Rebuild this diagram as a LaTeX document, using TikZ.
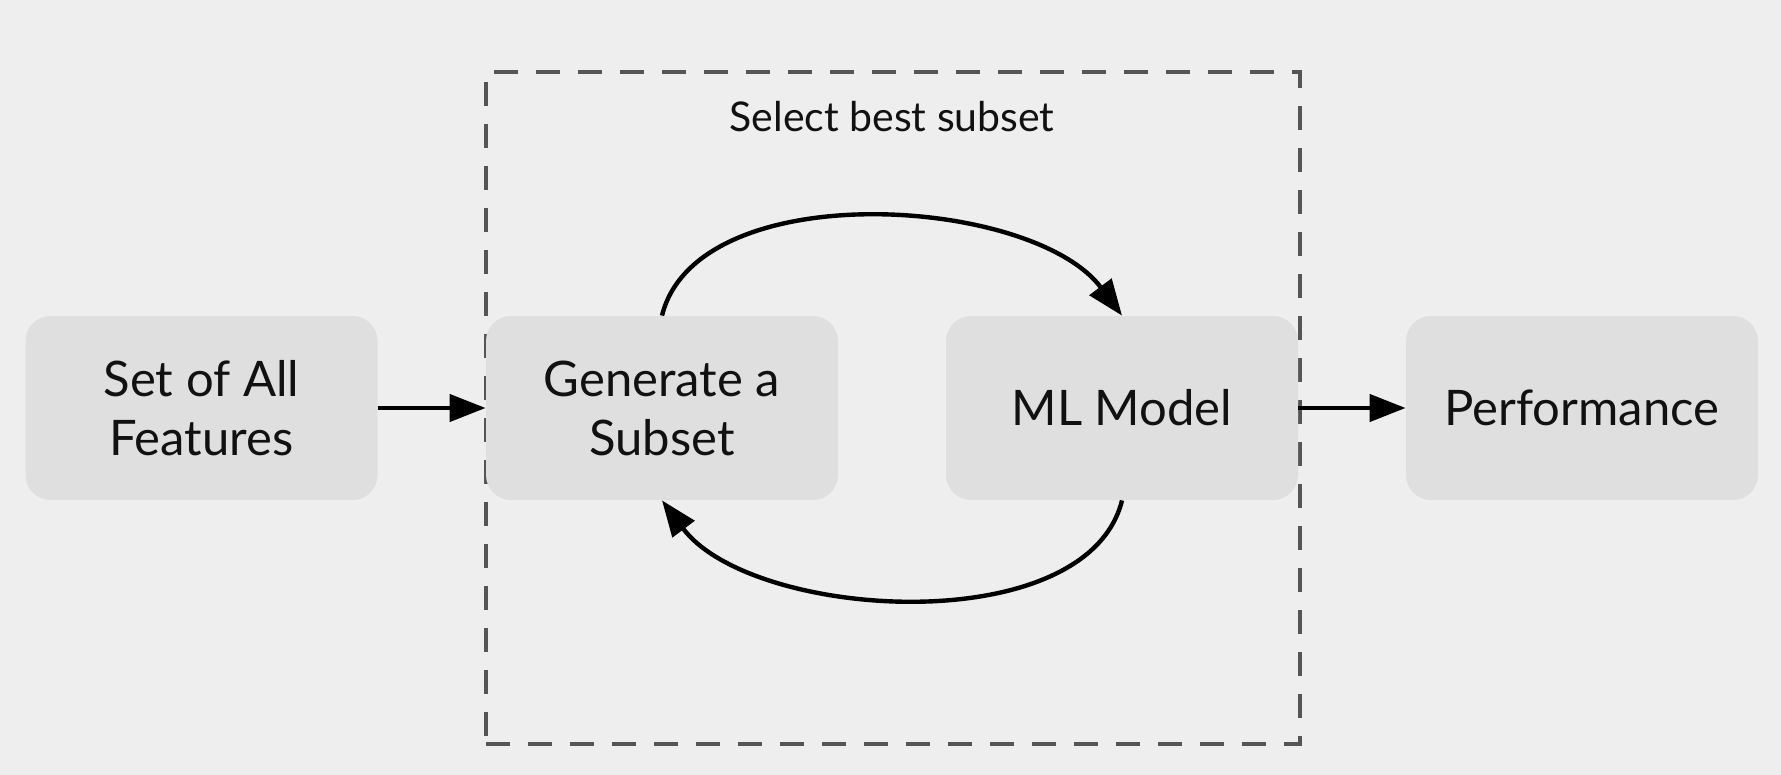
\documentclass[tikz,border=0pt]{standalone}
\usepackage{fontspec}
\setmainfont{Lato}
\usetikzlibrary{arrows.meta}
\definecolor{bg}{HTML}{EEEEEE}
\definecolor{boxfill}{HTML}{DFDFDF}
\definecolor{dashcol}{HTML}{555555}
\definecolor{txt}{HTML}{111111}
\begin{document}
\begin{tikzpicture}[x=0.5pt,y=-0.5pt,
  stepbox/.style={fill=boxfill, rounded corners=12.5pt, minimum width=176pt, minimum height=92pt,
    inner sep=0pt, align=center, text=txt, font=\fontsize{24.5}{29.5}\selectfont},
  flow/.style={line width=2.2pt, -{Triangle[length=18pt,width=13.5pt]}},
  groupbox/.style={draw=dashcol, line width=2pt, dash pattern=on 12pt off 9pt,
    minimum width=407pt, minimum height=336pt, inner sep=0pt},
  title/.style={text=txt, font=\fontsize{20.5}{24}\selectfont, inner sep=0pt}]
\fill[bg] (0,0) rectangle (1781,775);
\useasboundingbox (0,0) rectangle (1781,775);
\node[groupbox] (sel) at (893,408) {};
\node[title, anchor=base] (seltitle) at (892,132) {Select best subset};
\node[stepbox] (all) at (201.5,408) {Set of All\\Features};
\node[stepbox] (gen) at (662,408) {Generate a\\Subset};
\node[stepbox] (ml) at (1122,408) {ML Model};
\node[stepbox] (perf) at (1582,408) {Performance};
\draw[flow] (all.east) -- (gen.west);
\draw[flow] (ml.east) -- (perf.west);
\draw[flow] (gen.north) .. controls +(35,-141) and +(-90,-120) .. (ml.north);
\draw[flow] (ml.south) .. controls +(-35,141) and +(90,120) .. (gen.south);
\end{tikzpicture}
\end{document}
